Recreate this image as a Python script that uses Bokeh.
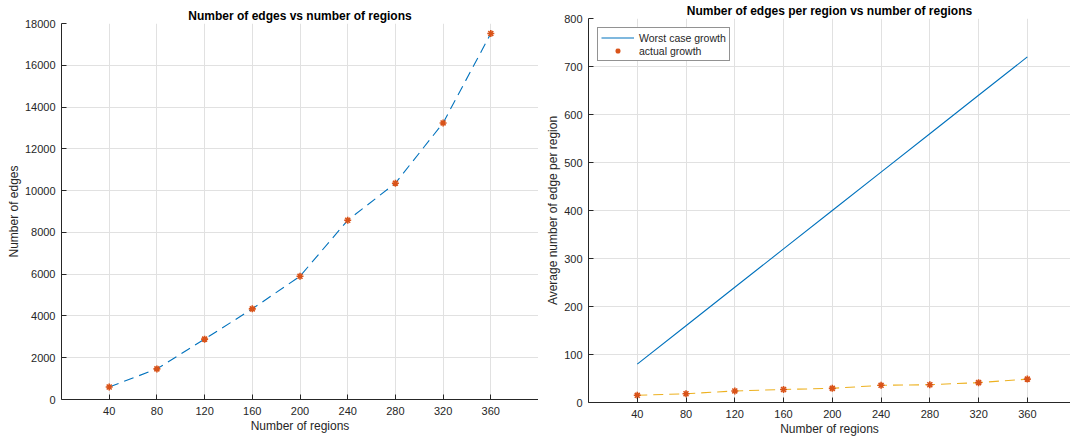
from bokeh.plotting import figure
from bokeh.layouts import row, column
from bokeh.models import Range1d, FixedTicker, Legend, LegendItem
from bokeh.embed import file_html
from bokeh.resources import INLINE

# ---- data ----
regions = [40, 80, 120, 160, 200, 240, 280, 320, 360]
num_edges = [600, 1465, 2890, 4340, 5900, 8580, 10355, 13240, 17520]
worst_case_growth = [80, 160, 240, 320, 400, 480, 560, 640, 720]
actual_growth = [15.0, 18.3, 24.1, 27.1, 29.5, 35.8, 37.0, 41.4, 48.7]
x_tick_values = [40, 80, 120, 160, 200, 240, 280, 320, 360]
left_y_ticks = [0, 2000, 4000, 6000, 8000, 10000, 12000, 14000, 16000, 18000]
right_y_ticks = [0, 100, 200, 300, 400, 500, 600, 700, 800]

BLUE = "#0072BD"
ORANGE = "#D95319"
YELLOW = "#EDB120"
AX = "#262626"
GRID = "#e1e1e1"
FONT = "Liberation Sans"


def style(p, xt, yt):
    p.outline_line_color = None
    for ax in (p.xaxis[0], p.yaxis[0]):
        ax.axis_line_color = AX
        ax.axis_line_width = 1
        ax.major_tick_line_color = AX
        ax.major_tick_in = 5
        ax.major_tick_out = 0
        ax.minor_tick_line_color = None
        ax.major_label_text_font = FONT
        ax.major_label_text_font_size = "11px"
        ax.major_label_text_color = AX
        ax.axis_label_text_font = FONT
        ax.axis_label_text_font_size = "12px"
        ax.axis_label_text_font_style = "normal"
        ax.axis_label_text_color = AX
    p.xaxis[0].ticker = FixedTicker(ticks=xt)
    p.yaxis[0].ticker = FixedTicker(ticks=yt)
    p.xaxis[0].major_label_standoff = 7
    p.yaxis[0].major_label_standoff = 6
    p.xaxis[0].axis_label_standoff = 1
    p.yaxis[0].axis_label_standoff = 1
    p.xgrid.ticker = FixedTicker(ticks=xt)
    p.ygrid.ticker = FixedTicker(ticks=yt)
    p.xgrid.grid_line_color = GRID
    p.ygrid.grid_line_color = GRID
    p.title.text_font = FONT
    p.title.text_font_size = "12px"
    p.title.text_font_style = "bold"
    p.title.text_color = "#000000"
    p.title.align = "center"
    p.title.standoff = 2
    p.title.offset = 0


# ---- left chart ----
p1 = figure(frame_width=477, frame_height=376,
            min_border_left=61, min_border_right=0,
            min_border_top=23, min_border_bottom=42,
            x_range=Range1d(0, 400), y_range=Range1d(0, 18000),
            title="Number of edges vs number of regions",
            x_axis_label="Number of regions", y_axis_label="Number of edges",
            output_backend="svg", toolbar_location=None)
style(p1, x_tick_values, left_y_ticks)
p1.line(regions, num_edges, line_color=BLUE, line_width=1.1, line_dash="10 6")
p1.scatter(regions, num_edges, marker="asterisk", size=7,
           line_color=ORANGE, line_width=1.6)

# ---- right chart ----
p2 = figure(frame_width=482, frame_height=384,
            min_border_left=50, min_border_right=0,
            min_border_top=18, min_border_bottom=39,
            x_range=Range1d(0, 395.4), y_range=Range1d(0, 800),
            title="Number of edges per region vs number of regions",
            x_axis_label="Number of regions",
            y_axis_label="Average number of edge per region",
            output_backend="svg", toolbar_location=None)
style(p2, x_tick_values, right_y_ticks)
r_worst = p2.line(regions, worst_case_growth, line_color=BLUE, line_width=1.1)
p2.line(regions, actual_growth, line_color=YELLOW, line_width=1.1, line_dash="10 6")
r_act = p2.scatter(regions, actual_growth, marker="asterisk", size=7,
                   line_color=ORANGE, line_width=1.6)

legend = Legend(items=[LegendItem(label="Worst case growth", renderers=[r_worst]),
                       LegendItem(label="actual growth", renderers=[r_act])],
                location="top_left")
legend.margin = 9
legend.padding = 3
legend.spacing = 0
legend.glyph_width = 33
legend.glyph_height = 13
legend.label_height = 13
legend.label_standoff = 5
legend.label_text_font = FONT
legend.label_text_font_size = "10.5px"
legend.label_text_color = AX
legend.border_line_color = AX
legend.border_line_width = 1
legend.background_fill_color = "white"
legend.background_fill_alpha = 1
p2.add_layout(legend)

layout = row(column(p1), column(p2))
open("out.html", "w").write(file_html(layout, INLINE))
